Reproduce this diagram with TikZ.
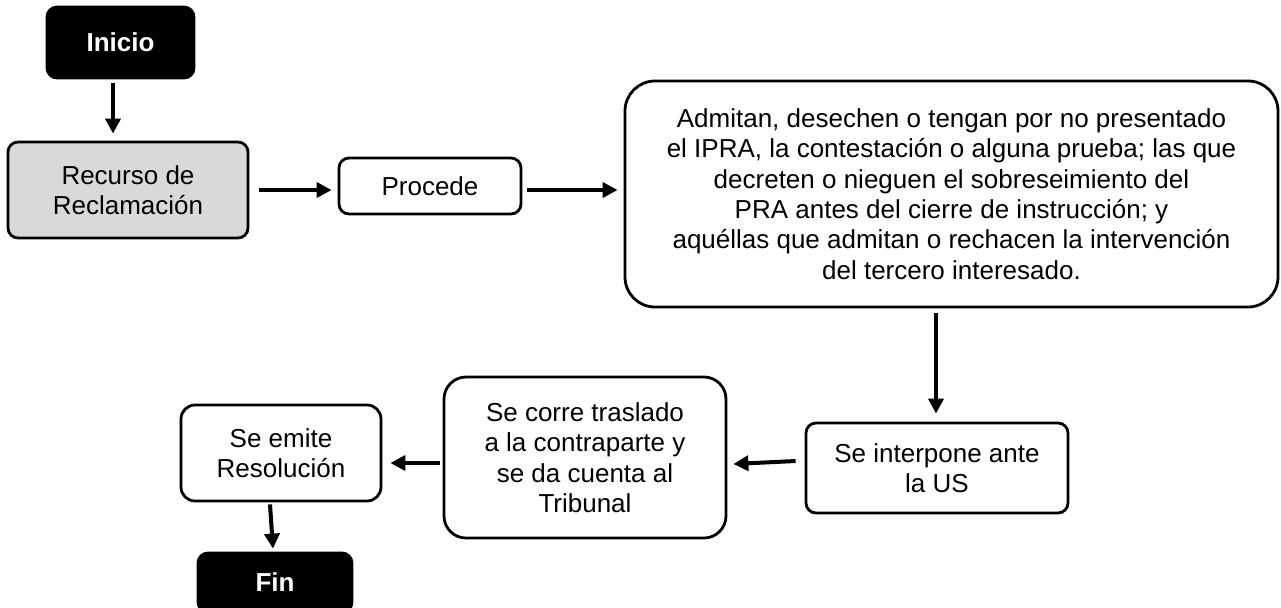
\documentclass[tikz,border=0pt]{standalone}
\usepackage{fontspec}
\setmainfont{Liberation Sans}
\usetikzlibrary{arrows.meta}
\definecolor{gris}{HTML}{D9D9D9}

\begin{document}
\begin{tikzpicture}[x=0.5pt, y=-0.5pt, line width=1.4pt,
    caja/.style={draw, rounded corners=5pt, align=center, inner sep=0pt, font=\fontsize{13}{15.2}\selectfont},
    extremo/.style={caja, fill=black, text=white, font=\fontsize{13}{15.2}\selectfont\bfseries},
    flecha/.style={-{Triangle[length=7.5pt,width=7.5pt]}, line width=2pt}]
    \useasboundingbox (0,0) rectangle (1281,607);

    \node[extremo, minimum width=73.5pt, minimum height=35.5pt] (ini) at (120.5,42.5) {Inicio};
    \node[caja, fill=gris, minimum width=120pt, minimum height=48pt] (rec) at (128,190) {Recurso de\\Reclamación};
    \node[caja, minimum width=91pt, minimum height=28pt] (pro) at (430,186) {Procede};
    \node[caja, rounded corners=15pt, minimum width=326.5pt, minimum height=113pt] (big) at (951.5,194)
        {Admitan, desechen o tengan por no presentado\\el IPRA, la contestación o alguna prueba; las que\\decreten o nieguen el sobreseimiento del\\PRA antes del cierre de instrucción; y\\aquéllas que admitan o rechacen la intervención\\del tercero interesado.};
    \node[caja, minimum width=131pt, minimum height=45pt] (inter) at (937,468) {Se interpone ante\\la US};
    \node[caja, rounded corners=11pt, minimum width=141pt, minimum height=80.5pt] (tras) at (585,457.5)
        {Se corre traslado\\a la contraparte y\\se da cuenta al\\Tribunal};
    \node[caja, rounded corners=7pt, minimum width=100pt, minimum height=48pt] (emi) at (281,453) {Se emite\\Resolución};
    \node[extremo, minimum width=77pt, minimum height=29.5pt] (fin) at (275,582.5) {Fin};

    % conectores
    \draw[flecha] ([xshift=-3.75pt,yshift=-2pt]ini.south) -- ([xshift=-7.5pt,yshift=3.5pt]rec.north);
    \draw[flecha] ([xshift=5pt]rec.east) -- ([xshift=-3pt,yshift=-2pt]pro.west);
    \draw[flecha] ([xshift=2.5pt,yshift=-2pt]pro.east) -- ([xshift=-3pt,yshift=2pt]big.west);
    \draw[flecha] ([xshift=-7.75pt,yshift=-2.5pt]big.south) -- ([xshift=-0.5pt,yshift=4pt]inter.north);
    \draw[flecha] ([xshift=-4.5pt,yshift=3.5pt]inter.west) -- ([xshift=3pt,yshift=-3.25pt]tras.east);
    \draw[flecha] ([xshift=-1.5pt,yshift=-2.75pt]tras.west) -- ([xshift=4pt,yshift=-5pt]emi.east);
    \draw[flecha] ([xshift=-5.5pt,yshift=-1pt]emi.south) -- ([xshift=-1pt,yshift=1.5pt]fin.north);
\end{tikzpicture}
\end{document}
